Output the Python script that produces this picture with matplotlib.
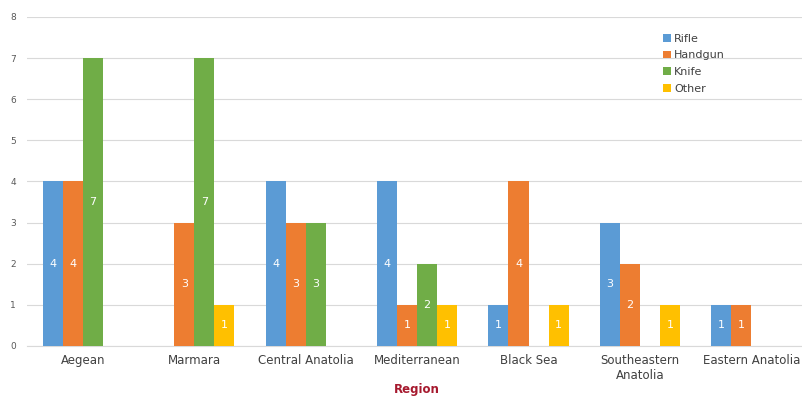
import matplotlib
matplotlib.use("Agg")
import matplotlib.pyplot as plt
import numpy as np

regions = ["Aegean", "Marmara", "Central Anatolia", "Mediterranean",
           "Black Sea", "Southeastern\nAnatolia", "Eastern Anatolia"]
series_names = ["Rifle", "Handgun", "Knife", "Other"]
rifle = [4, 0, 4, 4, 1, 3, 1]
handgun = [4, 3, 3, 1, 4, 2, 1]
knife = [7, 7, 3, 2, 0, 0, 0]
other = [0, 1, 0, 1, 1, 1, 0]
colors = ["#5B9BD5", "#ED7D31", "#70AD47", "#FFC000"]
y_ticks = [0, 1, 2, 3, 4, 5, 6, 7, 8]

fig = plt.figure(figsize=(8.03, 3.96), dpi=100)
ax = fig.add_axes([0.034, 0.1263, 0.971, 0.831])

x = np.arange(len(regions))
w = 0.18
all_series = [rifle, handgun, knife, other]
for k, (vals, name, col) in enumerate(zip(all_series, series_names, colors)):
    pos = x + (k - 1.5) * w
    v = np.array(vals, dtype=float)
    ax.bar(pos, v, width=w, color=col, label=name, zorder=3)
    for xp, val in zip(pos, v):
        if val > 0:
            ax.text(xp, val / 2, f"{int(val)}", ha="center", va="center",
                    color="white", fontsize=8, zorder=4)

ax.set_xlim(-0.5, len(regions) - 0.5)
ax.set_ylim(0, 8)
ax.set_yticks(y_ticks)
ax.set_yticklabels([str(t) for t in y_ticks], fontsize=6.5, color="#595959")
ax.set_xticks(x)
ax.set_xticklabels(regions, fontsize=8.5, color="#404040")
ax.tick_params(axis="both", length=0)
ax.tick_params(axis="y", pad=8)
ax.tick_params(axis="x", pad=6)
ax.grid(axis="y", color="#D9D9D9", linewidth=0.8, zorder=0)
for s in ["top", "right", "left"]:
    ax.spines[s].set_visible(False)
ax.spines["bottom"].set_color("#D9D9D9")

fig.legend(loc="upper left", bbox_to_anchor=(0.813, 0.94), frameon=False,
           fontsize=8, handlelength=0.7, handleheight=0.7, handletextpad=0.3,
           labelspacing=0.6, labelcolor="#404040")

fig.text(417 / 803, 1 - 389 / 396, "Region", ha="center", va="center",
         fontsize=8.5, fontweight="bold", color="#A6192E")

fig.savefig("out.png", dpi=100)
